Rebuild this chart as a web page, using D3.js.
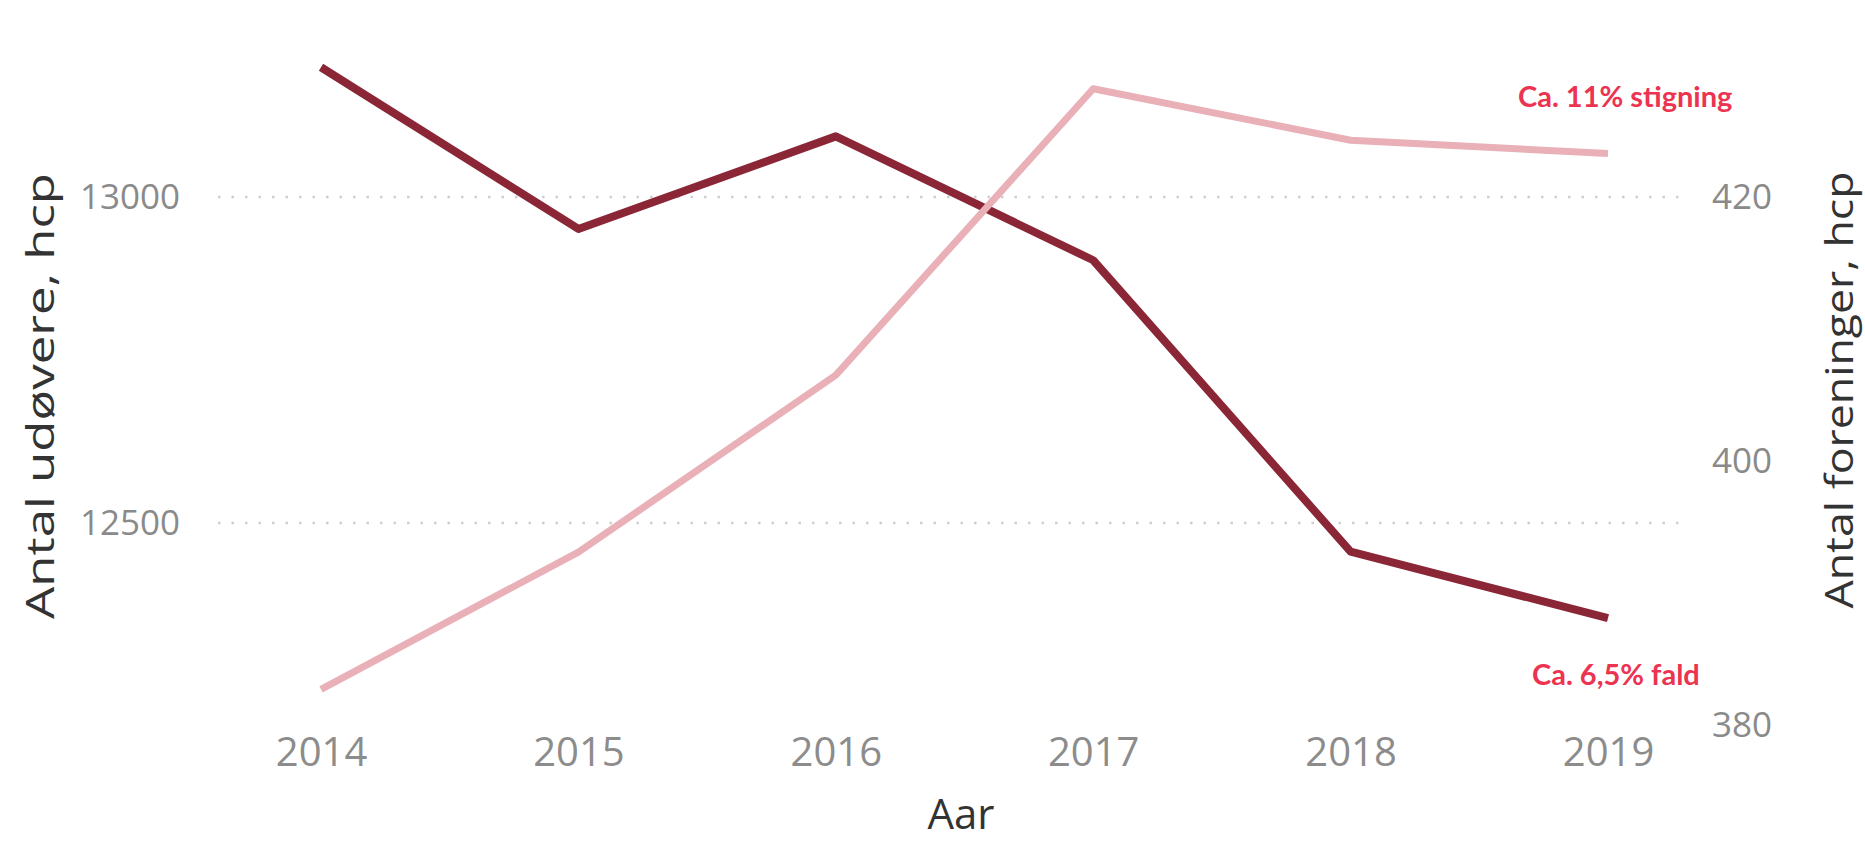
<!DOCTYPE html>
<html>
<head>
<meta charset="utf-8">
<script src="https://cdn.jsdelivr.net/npm/d3@7"></script>
<style>
  body { margin: 0; background: #fff; }
  svg { display: block; }
</style>
</head>
<body>
<script>
const w = 1865
const h = 841

// data
const years = [2014, 2015, 2016, 2017, 2018, 2019]
const udoevere = [13199, 12951, 13093, 12903, 12456, 12354]
const foreninger = [382.7, 393.1, 406.5, 428.2, 424.3, 423.3]
const leftTicks = [12500, 13000]
const rightTicks = [380, 400, 420]

const svg = d3.select("body").append("svg")
	.attr("width", w)
	.attr("height", h)

let xScale = d3.scalePoint()
	.domain(years)
	.range([321, 1608])

// left axis: 13000 -> 197, 12500 -> 523
let yLeft = d3.scaleLinear()
	.domain([12500, 13000])
	.range([523, 197])

// right axis: 420 -> 197, 380 -> 725
let yRight = d3.scaleLinear()
	.domain([380, 420])
	.range([725, 197])

// gridlines
svg.append("g")
	.selectAll("line")
	.data(leftTicks)
	.enter()
	.append("line")
	.attr("x1", 218)
	.attr("x2", 1680)
	.attr("y1", d => yLeft(d))
	.attr("y2", d => yLeft(d))
	.attr("stroke", "#cfcfcf")
	.attr("stroke-width", 2.5)
	.attr("stroke-dasharray", "2.5 11")

// left axis
let leftAxis = svg.append("g")
	.attr("transform", "translate(180, 0)")
	.call(d3.axisLeft(yLeft).tickValues(leftTicks).tickSize(0).tickPadding(0).tickFormat(d3.format("d")))
leftAxis.select(".domain").remove()
leftAxis.selectAll("text")
	.attr("font-family", "'Open Sans', sans-serif")
	.attr("font-size", 35)
	.attr("fill", "#8a8a8a")

// right axis
let rightAxis = svg.append("g")
	.attr("transform", "translate(1712, 0)")
	.call(d3.axisRight(yRight).tickValues(rightTicks).tickSize(0).tickPadding(0))
rightAxis.select(".domain").remove()
rightAxis.selectAll("text")
	.attr("font-family", "'Open Sans', sans-serif")
	.attr("font-size", 35)
	.attr("fill", "#8a8a8a")

// x axis
let xAxis = svg.append("g")
	.attr("transform", "translate(0, 738)")
	.call(d3.axisBottom(xScale).tickSize(0).tickPadding(0))
xAxis.select(".domain").remove()
xAxis.selectAll("text")
	.attr("font-family", "'Open Sans', sans-serif")
	.attr("font-size", 40)
	.attr("fill", "#8c8c8c")

// axis titles (picture is stretched vertically, so titles run long)
svg.append("text")
	.attr("transform", "translate(54, 396) rotate(-90)")
	.attr("text-anchor", "middle")
	.attr("font-family", "'Open Sans', sans-serif")
	.attr("font-size", 38)
	.attr("fill", "#333")
	.attr("textLength", 446)
	.attr("lengthAdjust", "spacingAndGlyphs")
	.text("Antal udøvere, hcp")

svg.append("text")
	.attr("transform", "translate(1853, 390) rotate(-90)")
	.attr("text-anchor", "middle")
	.attr("font-family", "'Open Sans', sans-serif")
	.attr("font-size", 38)
	.attr("fill", "#333")
	.attr("textLength", 437)
	.attr("lengthAdjust", "spacingAndGlyphs")
	.text("Antal foreninger, hcp")

svg.append("text")
	.attr("x", 961)
	.attr("y", 829)
	.attr("text-anchor", "middle")
	.attr("font-family", "'Open Sans', sans-serif")
	.attr("font-size", 42)
	.attr("fill", "#333")
	.text("Aar")

// lines
let lineLeft = d3.line()
	.x((d, i) => xScale(years[i]))
	.y(d => yLeft(d))

let lineRight = d3.line()
	.x((d, i) => xScale(years[i]))
	.y(d => yRight(d))

svg.append("path")
	.datum(udoevere)
	.attr("d", lineLeft)
	.attr("fill", "none")
	.attr("stroke", "#8a2636")
	.attr("stroke-width", 8)
	.attr("stroke-linejoin", "round")

svg.append("path")
	.datum(foreninger)
	.attr("d", lineRight)
	.attr("fill", "none")
	.attr("stroke", "#eab0b7")
	.attr("stroke-width", 7)
	.attr("stroke-linejoin", "round")

// annotations
svg.append("text")
	.attr("x", 1518)
	.attr("y", 107)
	.attr("font-family", "Lato, sans-serif")
	.attr("font-weight", "bold")
	.attr("font-size", 29)
	.attr("fill", "#ec3350")
	.text("Ca. 11% stigning")

svg.append("text")
	.attr("x", 1532)
	.attr("y", 685)
	.attr("font-family", "Lato, sans-serif")
	.attr("font-weight", "bold")
	.attr("font-size", 29)
	.attr("fill", "#ec3350")
	.text("Ca. 6,5% fald")
</script>
</body>
</html>
